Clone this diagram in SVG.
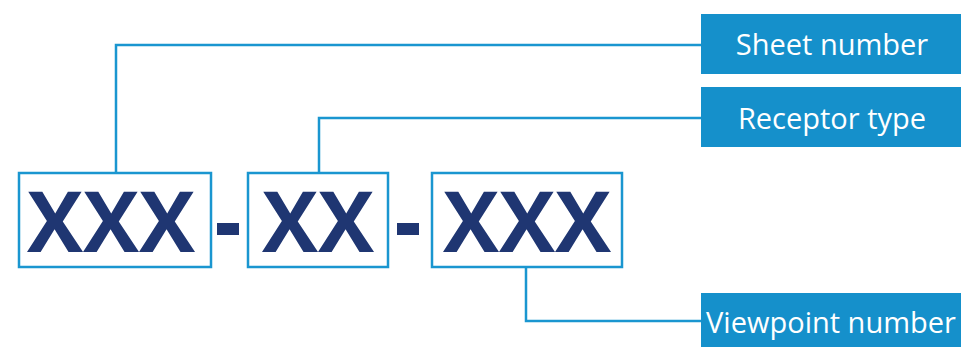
<svg xmlns="http://www.w3.org/2000/svg" width="961" height="347" viewBox="0 0 961 347">
<style>
.box{fill:#fff;stroke:#1a96d0;stroke-width:2.5}
.code{font-family:"Open Sans",sans-serif;font-weight:bold;font-size:84px;fill:#1f3672;text-anchor:middle}
.dash{fill:#1f3672}
.lbl{fill:#1590cb}
.lt{font-family:"Open Sans",sans-serif;font-size:29px;fill:#fff;text-anchor:middle}
.conn{fill:none;stroke:#1a96d0;stroke-width:2.5}
</style>
<g id="connectors">
<polyline class="conn" points="116,173 116,45 701,45"/>
<polyline class="conn" points="319,173 319,118 701,118"/>
<polyline class="conn" points="526,267 526,321 701,321"/>
</g>
<g id="code1"><rect class="box" x="19" y="173" width="192" height="94"/><text class="code" x="111" y="252">XXX</text></g>
<g id="dash1"><rect class="dash" x="217" y="223" width="22" height="12"/></g>
<g id="code2"><rect class="box" x="248" y="173" width="140" height="94"/><text class="code" x="318" y="252">XX</text></g>
<g id="dash2"><rect class="dash" x="397" y="223" width="22" height="12"/></g>
<g id="code3"><rect class="box" x="432" y="173" width="190" height="94"/><text class="code" x="527" y="252">XXX</text></g>
<g id="sheet"><rect class="lbl" x="701" y="14" width="260" height="60"/><text class="lt" x="832" y="55">Sheet number</text></g>
<g id="receptor"><rect class="lbl" x="701" y="87" width="260" height="60"/><text class="lt" x="832" y="129">Receptor type</text></g>
<g id="viewpoint"><rect class="lbl" x="701" y="293" width="260" height="54"/><text class="lt" x="831" y="333">Viewpoint number</text></g>
</svg>
